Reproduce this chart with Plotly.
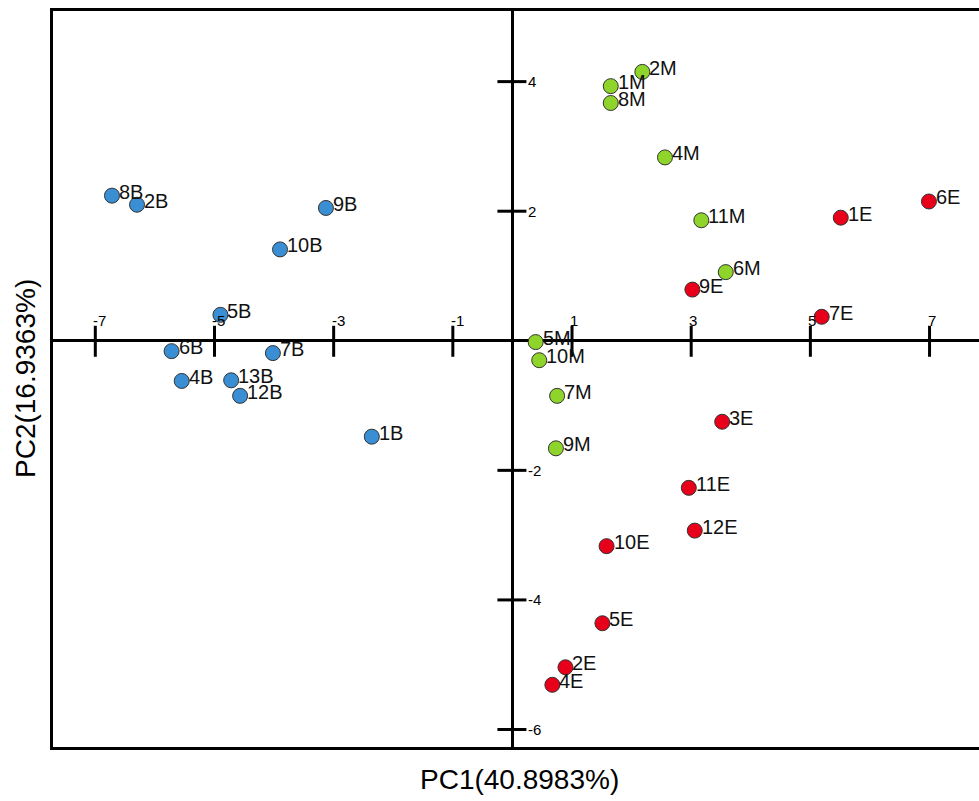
import plotly.graph_objects as go

# ---- data (PCA scores) ----
b_labels = ["8B", "2B", "9B", "10B", "5B", "6B", "7B", "4B", "13B", "12B", "1B"]
b_pc1 = [-6.72, -6.30, -3.13, -3.90, -4.90, -5.72, -4.02, -5.55, -4.72, -4.57, -2.36]
b_pc2 = [2.24, 2.10, 2.05, 1.41, 0.40, -0.16, -0.19, -0.62, -0.61, -0.85, -1.48]

m_labels = ["2M", "1M", "8M", "4M", "11M", "6M", "5M", "10M", "7M", "9M"]
m_pc1 = [2.18, 1.65, 1.65, 2.56, 3.17, 3.58, 0.39, 0.45, 0.75, 0.73]
m_pc2 = [4.15, 3.93, 3.67, 2.83, 1.86, 1.06, -0.02, -0.30, -0.85, -1.66]

e_labels = ["6E", "1E", "7E", "9E", "3E", "11E", "12E", "10E", "5E", "2E", "4E"]
e_pc1 = [6.99, 5.51, 5.19, 3.02, 3.52, 2.96, 3.06, 1.58, 1.51, 0.89, 0.67]
e_pc2 = [2.15, 1.90, 0.37, 0.79, -1.25, -2.27, -2.93, -3.17, -4.36, -5.04, -5.31]

x_ticks = [-7, -5, -3, -1, 1, 3, 5, 7]
y_ticks = [4, 2, -2, -4, -6]
x_title = "PC1(40.8983%)"
y_title = "PC2(16.9363%)"

FONT = "Liberation Sans, Arial, Helvetica, sans-serif"

groups = [
    (b_pc1, b_pc2, b_labels, "#3A8FD4"),
    (m_pc1, m_pc2, m_labels, "#8FD42A"),
    (e_pc1, e_pc2, e_labels, "#E8001A"),
]

fig = go.Figure()
annotations = []
for xs, ys, labs, col in groups:
    fig.add_trace(go.Scatter(
        x=xs, y=ys, text=labs, mode="markers",
        marker=dict(size=15, color=col, line=dict(color="#333333", width=1)),
        showlegend=False, cliponaxis=False, hoverinfo="text",
    ))
    for xv, yv, lab in zip(xs, ys, labs):
        annotations.append(dict(x=xv, y=yv, xref="x", yref="y", text=lab,
                                showarrow=False, xanchor="left", yanchor="middle",
                                xshift=5, yshift=4,
                                font=dict(family=FONT, size=20, color="#111111")))

shapes = []
for t in x_ticks:
    shapes.append(dict(type="line", xref="x", yref="y", x0=t, x1=t,
                       ysizemode="pixel", yanchor=0, y0=-16, y1=15,
                       line=dict(color="black", width=3)))
for t in y_ticks:
    shapes.append(dict(type="line", xref="x", yref="y", y0=t, y1=t,
                       xsizemode="pixel", xanchor=0, x0=-15, x1=14,
                       line=dict(color="black", width=3)))

for t in x_ticks:
    annotations.append(dict(x=t, y=0, xref="x", yref="y", text=str(t),
                            showarrow=False, xanchor="left", yanchor="bottom",
                            xshift=-4, yshift=10,
                            font=dict(family=FONT, size=15, color="black")))
for t in y_ticks:
    annotations.append(dict(x=0, y=t, xref="x", yref="y", text=str(t),
                            showarrow=False, xanchor="left", yanchor="middle",
                            xshift=14,
                            font=dict(family=FONT, size=15, color="black")))
annotations.append(dict(x=0.5, y=0, xref="paper", yref="paper", text=x_title,
                        showarrow=False, xanchor="center", yanchor="middle",
                        xshift=3, yshift=-32,
                        font=dict(family=FONT, size=28, color="black")))
annotations.append(dict(x=0, y=0.5, xref="paper", yref="paper", text=y_title,
                        showarrow=False, xanchor="center", yanchor="middle", xshift=-28,
                        textangle=-90,
                        font=dict(family=FONT, size=28, color="black")))

fig.update_layout(
    width=979, height=801,
    margin=dict(l=53, r=0, t=11, b=54),
    paper_bgcolor="white", plot_bgcolor="white",
    xaxis=dict(range=[-7.71, 7.83], showgrid=False, showticklabels=False, ticks="",
               zeroline=True, zerolinecolor="black", zerolinewidth=3,
               showline=True, linecolor="black", linewidth=3, mirror=True),
    yaxis=dict(range=[-6.27, 5.09], showgrid=False, showticklabels=False, ticks="",
               zeroline=True, zerolinecolor="black", zerolinewidth=3,
               showline=True, linecolor="black", linewidth=3, mirror=False),
    shapes=shapes, annotations=annotations,
)

fig.write_html(
    "out.html",
    config={"displayModeBar": False},
    post_script="document.body.style.margin='0';"
                "document.documentElement.style.overflow='hidden';"
                "document.body.style.overflow='hidden';",
)
